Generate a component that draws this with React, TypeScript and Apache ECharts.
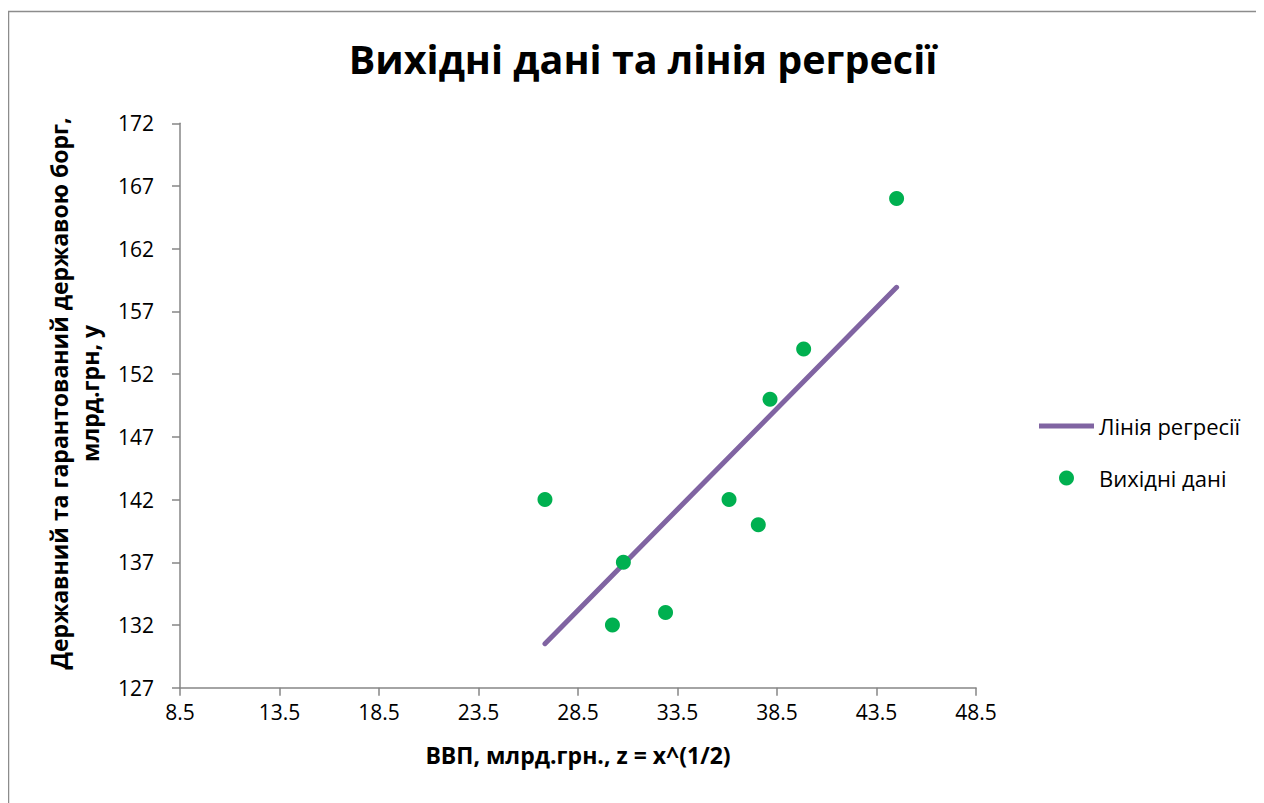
import React, { useEffect, useRef } from "react";
import * as echarts from "echarts";

const titleText = "Вихідні дані та лінія регресії";
const xAxisName = "ВВП, млрд.грн., z = x^(1/2)";
const yAxisName = "Державний та гарантований державою борг,\nмлрд.грн, y";
const seriesNames = ["Лінія регресії", "Вихідні дані"];

// observed data
const zValues = [26.84, 30.78, 30.23, 32.9, 36.09, 37.56, 38.15, 39.84, 44.51];
const yValues = [142, 137, 132, 133, 142, 140, 150, 154, 166];

// regression line endpoints
const regZ = [26.84, 44.51];
const regY = [130.51, 158.92];

const xMin = 8.5;
const xMax = 48.5;
const xStep = 5;
const yMin = 127;
const yMax = 172;
const yStep = 5;

const FONT = "'Open Sans', sans-serif";

export default function App() {
  const ref = useRef<HTMLDivElement>(null);
  useEffect(() => {
    if (!ref.current) return;
    const chart = echarts.init(ref.current, null, { renderer: "svg" });
    chart.setOption({
      animation: false,
      backgroundColor: "#ffffff",
      textStyle: { fontFamily: FONT },
      title: {
        text: titleText,
        left: 630,
        textAlign: "center",
        top: 26,
        textStyle: { fontFamily: FONT, fontSize: 39.5, fontWeight: "bold", color: "#000" },
      },
      graphic: [
        {
          type: "rect",
          shape: { x: 0.5, y: 3.5, width: 2000, height: 2000 },
          style: { fill: "none", stroke: "#8c8c8c", lineWidth: 1.5 },
          silent: true,
        },
      ],
      legend: {
        orient: "vertical",
        left: 1026,
        top: 402,
        itemWidth: 55,
        itemHeight: 15,
        itemGap: 30,
        textStyle: { fontFamily: FONT, fontSize: 22, color: "#000" },
        data: [
          { name: seriesNames[0], icon: "path://M0,0 L55,0 L55,5 L0,5 Z", itemStyle: { color: "#8064A2" } },
          { name: seriesNames[1], icon: "circle" },
        ],
      },
      grid: { left: 172, right: 288, top: 115.3, bottom: 115.3 },
      xAxis: {
        type: "value",
        min: xMin,
        max: xMax,
        interval: xStep,
        name: xAxisName,
        nameLocation: "middle",
        nameGap: 56,
        nameTextStyle: { fontFamily: FONT, fontSize: 23, fontWeight: "bold", color: "#000" },
        splitLine: { show: false },
        axisLine: { lineStyle: { color: "#868686", width: 1.5 } },
        axisTick: { length: 8, lineStyle: { color: "#868686", width: 1.5 } },
        axisLabel: { fontFamily: FONT, fontSize: 21, color: "#000", margin: 14 },
      },
      yAxis: {
        type: "value",
        min: yMin,
        max: yMax,
        interval: yStep,
        name: yAxisName,
        nameLocation: "middle",
        nameRotate: 90,
        nameGap: 75,
        nameTextStyle: {
          fontFamily: FONT,
          fontSize: 23,
          fontWeight: "bold",
          color: "#000",
          lineHeight: 31,
          align: "center",
          padding: [0, 0, 0, 24],
        },
        splitLine: { show: false },
        axisLine: { show: true, lineStyle: { color: "#868686", width: 1.5 } },
        axisTick: { show: true, length: 8, lineStyle: { color: "#868686", width: 1.5 } },
        axisLabel: { fontFamily: FONT, fontSize: 21, color: "#000", margin: 26 },
      },
      series: [
        {
          name: seriesNames[0],
          type: "line",
          symbol: "none",
          data: regZ.map((z, i) => [z, regY[i]]),
          lineStyle: { color: "#8064A2", width: 5, cap: "round" },
          itemStyle: { color: "#8064A2" },
          z: 2,
        },
        {
          name: seriesNames[1],
          type: "scatter",
          symbol: "circle",
          symbolSize: 15,
          data: zValues.map((z, i) => [z, yValues[i]]),
          itemStyle: { color: "#00B050", opacity: 1 },
          z: 3,
        },
      ],
    });
    return () => chart.dispose();
  }, []);
  return <div ref={ref} style={{ width: 1256, height: 795 }} />;
}
